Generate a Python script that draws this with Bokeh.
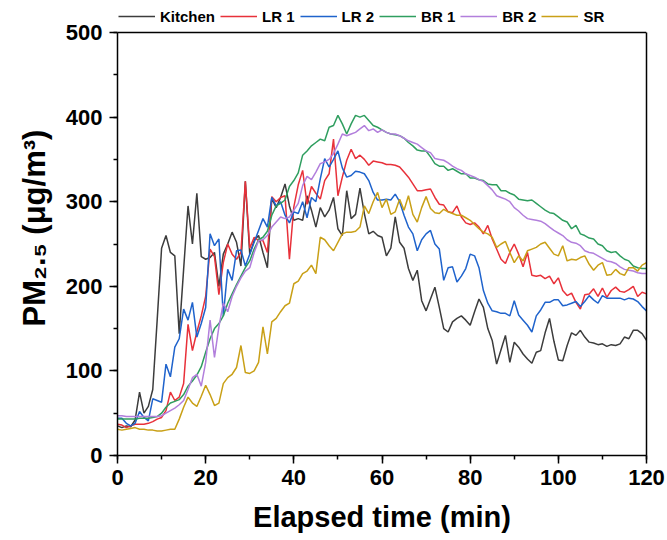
from bokeh.plotting import figure
from bokeh.models import (Legend, LegendItem, SingleIntervalTicker, FixedTicker,
                          Range1d, Span, LinearAxis, Title)
from bokeh.embed import file_html
from bokeh.resources import INLINE

# PM2.5 concentration per room, sampled once a minute
elapsed_min = list(range(0, 121))

kitchen = [35, 33, 35, 34, 42, 75, 50, 58, 78, 160,
           245, 260, 240, 236, 144, 220, 295, 250, 310, 235,
           232, 234, 240, 200, 238, 250, 264, 252, 224, 324,
           238, 254, 260, 240, 222, 304, 293, 305, 321, 295,
           278, 280, 278, 307, 290, 270, 293, 282, 290, 305,
           268, 260, 313, 280, 285, 316, 286, 262, 265, 260,
           258, 236, 245, 282, 252, 245, 221, 207, 219, 183,
           171, 185, 199, 175, 150, 146, 158, 162, 165, 160,
           154, 170, 185, 175, 150, 136, 108, 125, 142, 110,
           134, 128, 120, 114, 109, 122, 124, 145, 162, 135,
           113, 112, 130, 145, 142, 148, 140, 134, 133, 131,
           132, 129, 131, 130, 132, 140, 138, 148, 148, 144,
           136]

lr1 = [37, 36, 33, 35, 37, 37, 37, 38, 40, 43,
       45, 53, 75, 65, 69, 85, 155, 124, 146, 165,
       188, 244, 235, 190, 228, 250, 238, 232, 240, 324,
       245, 258, 254, 254, 240, 306, 300, 305, 307, 232,
       294, 320, 337, 297, 318, 310, 303, 325, 333, 374,
       307, 329, 349, 362, 351, 355, 350, 343, 348, 347,
       346, 344, 344, 343, 341, 335, 329, 321, 313, 313,
       314, 315, 305, 297, 296, 288, 287, 295, 282, 275,
       273, 275, 270, 262, 272, 256, 244, 232, 227, 240,
       250, 238, 223, 240, 213, 212, 213, 209, 212, 203,
       210, 195, 189, 192, 181, 173, 190, 191, 197, 188,
       198, 187, 195, 199, 194, 193, 196, 200, 188, 193,
       191]

lr2 = [44, 44, 38, 35, 38, 52, 45, 41, 67, 65,
       63, 108, 93, 128, 138, 173, 160, 181, 140, 156,
       175, 262, 248, 256, 165, 220, 207, 242, 243, 224,
       238, 252, 266, 280, 270, 305, 295, 300, 284, 275,
       288, 286, 300, 281, 305, 300, 327, 351, 341, 350,
       360, 340, 329, 331, 336, 335, 333, 325, 311, 302,
       302, 303, 302, 309, 300, 284, 270, 262, 242, 255,
       262, 266, 250, 244, 207, 222, 223, 205, 212, 221,
       238, 236, 222, 195, 180, 171, 170, 168, 168, 165,
       183, 166, 160, 154, 146, 165, 172, 181, 181, 184,
       184, 177, 178, 180, 182, 176, 182, 189, 184, 180,
       189, 186, 186, 186, 186, 184, 186, 185, 182, 176,
       171]

br1 = [43, 43, 43, 43, 43, 44, 44, 44, 45, 46,
       50, 57, 62, 64, 66, 72, 82, 88, 95, 105,
       122, 138, 150, 156, 165, 180, 191, 202, 212, 222,
       230, 244, 255, 258, 265, 284, 295, 298, 302, 318,
       325, 334, 355, 360, 366, 370, 374, 372, 388, 390,
       402, 392, 380, 392, 402, 400, 402, 396, 390, 388,
       385, 382, 380, 379, 378, 375, 370, 366, 361, 360,
       360, 353, 345, 342, 342, 337, 339, 336, 333, 333,
       328, 328, 326, 325, 321, 320, 320, 313, 313, 310,
       308, 303, 302, 301, 302, 298, 294, 290, 287, 286,
       282, 278, 276, 268, 272, 262, 260, 257, 256, 250,
       248, 242, 240, 241, 236, 232, 230, 224, 222, 221,
       221]

br2 = [47, 47, 46, 46, 46, 46, 46, 46, 46, 46,
       47, 50, 53, 56, 60, 65, 78, 92, 96, 82,
       110, 160, 116, 152, 180, 170, 188, 200, 210, 218,
       222, 240, 254, 255, 260, 270, 276, 282, 280, 282,
       290, 298, 319, 330, 326, 335, 345, 347, 350, 357,
       368, 380, 378, 380, 382, 386, 390, 384, 386, 382,
       385, 382, 380, 380, 378, 375, 372, 370, 368, 364,
       360, 358, 351, 350, 349, 346, 342, 339, 337, 333,
       331, 329, 326, 324, 319, 314, 307, 305, 303, 300,
       293, 289, 284, 280, 279, 278, 277, 274, 270, 266,
       263, 260, 255, 252, 251, 248, 242, 240, 239, 236,
       233, 230, 229, 227, 223, 220, 219, 218, 216, 215,
       215]

sr = [31, 30, 31, 32, 33, 31, 31, 30, 30, 29,
      29, 30, 31, 31, 43, 57, 69, 62, 58, 70,
      83, 72, 59, 62, 85, 92, 96, 104, 130, 98,
      97, 100, 110, 152, 120, 158, 162, 170, 177, 180,
      203, 206, 215, 218, 225, 215, 258, 255, 248, 242,
      252, 262, 264, 264, 265, 270, 295, 286, 300, 311,
      293, 303, 285, 288, 303, 290, 307, 285, 276, 293,
      306, 292, 287, 286, 291, 288, 286, 284, 284, 281,
      278, 273, 268, 264, 262, 258, 246, 250, 253, 240,
      228, 236, 230, 242, 244, 246, 250, 252, 245, 238,
      236, 248, 230, 232, 231, 234, 236, 226, 219, 225,
      228, 213, 214, 220, 215, 213, 222, 222, 218, 225,
      228]

series_names = ["Kitchen", "LR 1", "LR 2", "BR 1", "BR 2", "SR"]
series_values = [kitchen, lr1, lr2, br1, br2, sr]
series_colors = ["#3c3c3c", "#e8313a", "#1f63cc", "#2f9e5f", "#b27fdc", "#c9a017"]

FONT = "Liberation Sans"
X_MAX = 120
Y_MAX = 500

# Frame reaches the top of the canvas so the legend can sit above the data box
FRAME_H = 540 - 85
BOX_TOP = 32
y_top = Y_MAX * FRAME_H / (FRAME_H - BOX_TOP)

p = figure(width=667, height=540, output_backend="svg", toolbar_location=None,
           x_range=Range1d(0, X_MAX), y_range=Range1d(0, y_top),
           min_border_left=117, min_border_right=21,
           min_border_top=0, min_border_bottom=85)

renderers = []
for name, vals, col in zip(series_names, series_values, series_colors):
    r = p.line(elapsed_min, vals, line_color=col, line_width=1.5)
    renderers.append(r)

p.grid.visible = False
p.outline_line_color = None
p.background_fill_color = "white"
p.border_fill_color = "white"

p.xaxis.ticker = SingleIntervalTicker(interval=20, num_minor_ticks=2)
p.yaxis.ticker = SingleIntervalTicker(interval=100, num_minor_ticks=2)
p.yaxis.bounds = (0, Y_MAX)

for ax in (p.xaxis, p.yaxis):
    ax.axis_line_color = "black"
    ax.axis_line_width = 1.5
    ax.major_tick_line_color = "black"
    ax.major_tick_line_width = 1.5
    ax.minor_tick_line_color = "black"
    ax.minor_tick_line_width = 1.5
    ax.major_tick_in = 0
    ax.major_tick_out = 8
    ax.minor_tick_in = 0
    ax.minor_tick_out = 4
    ax.major_label_text_font = FONT
    ax.major_label_text_font_style = "bold"
    ax.major_label_text_font_size = "22px"
    ax.major_label_text_color = "black"

p.xaxis.major_label_standoff = 6
p.yaxis.major_label_standoff = 7

p.xaxis.axis_label = "Elapsed time (min)"
p.xaxis.axis_label_text_font = FONT
p.xaxis.axis_label_text_font_style = "bold"
p.xaxis.axis_label_text_font_size = "29px"
p.xaxis.axis_label_text_color = "black"
p.xaxis.axis_label_standoff = 13

# box: top edge and right edge of the data area
p.add_layout(Span(location=Y_MAX, dimension="width", line_color="black", line_width=1.5))
right_edge = LinearAxis(bounds=(0, Y_MAX), ticker=FixedTicker(ticks=[]),
                        axis_line_color="black", axis_line_width=1.5,
                        major_tick_out=0, minor_tick_out=0,
                        major_label_text_font_size="0px")
p.add_layout(right_edge, "right")

# y axis title
ytitle = Title(text="PM\u2082.\u2085 (\u03bcg/m\u00b3)", align="center", offset=-37,
               standoff=22, text_font=FONT, text_font_style="bold",
               text_font_size="31px", text_color="black")
p.add_layout(ytitle, "left")

items = [LegendItem(label=n, renderers=[r]) for n, r in zip(series_names, renderers)]
legend = Legend(items=items, orientation="horizontal", location=(1, FRAME_H - 26),
                glyph_width=37, glyph_height=20, label_height=20,
                label_standoff=5, spacing=5, padding=0, margin=0,
                border_line_color=None, background_fill_alpha=0,
                label_text_font=FONT, label_text_font_style="bold",
                label_text_font_size="15px", label_text_color="black")
p.add_layout(legend)

open("out.html", "w").write(file_html(p, INLINE))
